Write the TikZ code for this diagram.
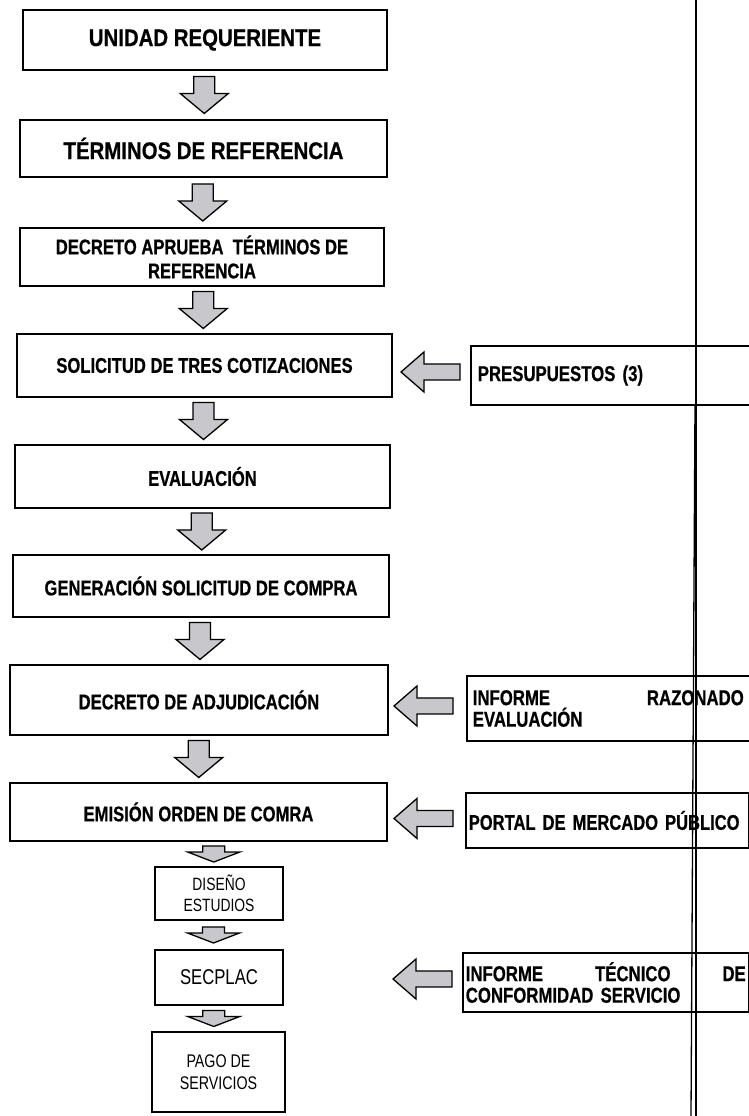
\documentclass[tikz,border=0pt]{standalone}
\usepackage{fontspec}
\newfontfamily\cond[FakeStretch=0.78, BoldFeatures={FakeBold=0.6}]{Liberation Sans}
\newfontfamily\condb[FakeStretch=0.85, BoldFeatures={FakeBold=0.6}]{Liberation Sans}
\usetikzlibrary{calc}
\definecolor{arrgray}{RGB}{200,200,204}
\begin{document}
\begin{tikzpicture}[x=1pt,y=1pt,
  box/.style={draw, line width=1.6pt, inner sep=2pt, align=center,
    font=\cond\bfseries\fontsize{21.3}{24}\selectfont},
  bigbox/.style={box, font=\condb\bfseries\fontsize{24}{28}\selectfont},
  smallbox/.style={draw, line width=1.4pt, inner sep=2pt, align=center,
    font=\cond\fontsize{17.8}{21}\selectfont},
  rbox/.style={line width=1.6pt, align=left, inner ysep=0pt, anchor=west,
    font=\cond\bfseries\fontsize{21.5}{21.5}\selectfont},
  arr/.style={draw, line width=1.3pt, fill=arrgray, line join=miter},
  vline/.style={line width=1.3pt},
  bigdown/.pic={\path[arr] (-10.5,18.5) -- (10.5,18.5) -- (10.5,1.5) -- (24,1.5)
     -- (0,-18.5) -- (-24,1.5) -- (-10.5,1.5) -- cycle;},
  smalldown/.pic={\path[arr] (-11,8) -- (11,8) -- (11,2) -- (26,2)
     -- (0,-8) -- (-26,2) -- (-11,2) -- cycle;},
  leftarr/.pic={\path[arr] (0,8) -- (-36,8) -- (-36,20) -- (-59,0)
     -- (-36,-20) -- (-36,-8) -- (0,-8) -- cycle;}
]
\path[use as bounding box] (0,0) rectangle (749,1116);
\clip (0,0) rectangle (749,1116);
\coordinate (edge) at (760,0);

% vertical separator
\draw[vline] (696,1116) -- (696,0);
\draw[vline] (695,711) -- (691,0);

% main column
\node[bigbox, minimum width=364, minimum height=60] (b1) at (205,1076) {UNIDAD REQUERIENTE};
\node[bigbox, minimum width=367, minimum height=57] (b2) at (203.5,967.5) {TÉRMINOS DE REFERENCIA};
\node[box, minimum width=364, minimum height=58] (b3) at (202,859) {DECRETO APRUEBA\ \ TÉRMINOS DE\\REFERENCIA};
\node[box, minimum width=375, minimum height=63] (b4) at (204.5,750.5) {SOLICITUD DE TRES COTIZACIONES};
\node[box, minimum width=375, minimum height=63] (b5) at (202.5,639.5) {EVALUACIÓN};
\node[box, minimum width=376, minimum height=62] (b6) at (201,530) {GENERACIÓN SOLICITUD DE COMPRA};
\node[box, minimum width=378, minimum height=70] (b7) at (199,416) {DECRETO DE ADJUDICACIÓN};
\node[box, minimum width=377, minimum height=58] (b8) at (198.5,304) {EMISIÓN ORDEN DE COMRA};
\node[smallbox, minimum width=128, minimum height=53] (b9) at (219,222.5) {DISEÑO\\ESTUDIOS};
\node[smallbox, minimum width=128, minimum height=55, font=\cond\fontsize{21.4}{22}\selectfont] (b10) at (219,138.5) {SECPLAC};
\node[smallbox, minimum width=133, minimum height=80, font=\cond\fontsize{18.3}{22}\selectfont] (b11) at (218.5,44) {PAGO DE\\SERVICIOS};

% right column
\node[rbox, inner xsep=6pt, text width=262, minimum height=57] (r1) at (471,740.5) {PRESUPUESTOS (3)};
\draw[line width=1.6pt] (r1.south west) rectangle (r1.north -| edge);
\node[rbox, inner xsep=5pt, text width=271, minimum height=63] (r2) at (467,407.5) {INFORME\hspace{\fill}RAZONADO\\EVALUACIÓN};
\draw[line width=1.6pt] (r2.south west) rectangle (r2.north -| edge);
\node[rbox, draw, inner xsep=3pt, text width=277, minimum height=55, font=\cond\bfseries\fontsize{21.2}{21.5}\selectfont] (r3) at (465,295.5) {PORTAL DE MERCADO PÚBLICO};
\node[rbox, draw, inner xsep=3pt, text width=280, minimum height=59] (r4) at (462,133.5) {INFORME\hspace{\fill}TÉCNICO\hspace{\fill}DE\\CONFORMIDAD SERVICIO};

% down arrows
\pic at ($(b1.south)!0.5!(b2.north)$) {bigdown};
\pic at ($(b2.south)!0.5!(b3.north)$) {bigdown};
\pic at ($(b3.south)!0.5!(b4.north)$) {bigdown};
\pic at ($(b4.south)!0.5!(b5.north)$) {bigdown};
\pic at ($(b5.south)!0.5!(b6.north)$) {bigdown};
\pic at ($(b6.south)!0.5!(b7.north)$) {bigdown};
\pic at ($(b7.south)!0.5!(b8.north)$) {bigdown};
\pic at ($(b8.south)!0.5!(b9.north)+(5,0)$) {smalldown};
\pic at ($(b9.south)!0.5!(b10.north)+(-5.5,0)$) {smalldown};
\pic at ($(b10.south)!0.5!(b11.north)+(-5,0)$) {smalldown};

% left arrows
\pic at ($(r1.west)+(-11,3.5)$) {leftarr};
\pic at ($(r2.west)+(-14,2.5)$) {leftarr};
\pic at ($(r3.west)+(-12,2)$) {leftarr};
\pic at ($(r4.west)+(-10,3.5)$) {leftarr};
\end{tikzpicture}
\end{document}
